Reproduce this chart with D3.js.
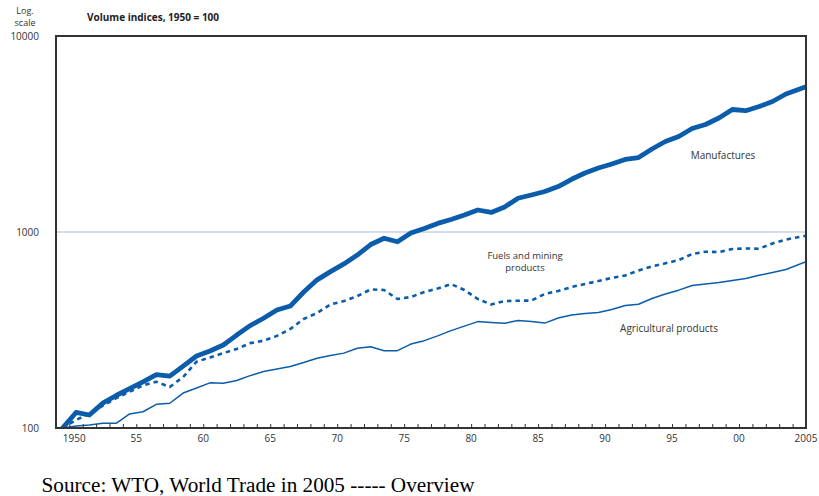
<!DOCTYPE html>
<html>
<head>
<meta charset="utf-8">
<script src="https://cdn.jsdelivr.net/npm/d3@7"></script>
<style>
  html, body { margin: 0; padding: 0; background: #fff; }
  svg { display: block; }
</style>
</head>
<body>
<svg id="chart" width="819" height="496"></svg>
<script>
// ---- Data (volume indices, 1950 = 100) ----
const years = d3.range(1950, 2006);
const manufactures = [
  100, 120, 116.5, 134, 146.5, 159, 172, 187, 184, 207,
  233, 247, 265, 298, 333, 363, 400, 419, 494, 570,
  628, 687, 763, 863, 929, 892, 989, 1042, 1106, 1158,
  1221, 1295, 1258, 1342, 1486, 1545, 1610, 1706, 1858, 2000,
  2121, 2223, 2344, 2399, 2652, 2895, 3070, 3373, 3535, 3815,
  4217, 4159, 4366, 4633, 5058, 5510
];
const fuels = [
  100, 110, 118, 130, 142, 153, 165, 172, 162, 182,
  218, 229, 241, 253, 271, 279, 295, 320, 360, 386,
  427, 444, 471, 509, 506, 455, 466, 494, 515, 542,
  506, 455, 427, 444, 446, 447, 483, 500, 524, 543,
  562, 583, 600, 636, 667, 692, 719, 772, 793, 790,
  819, 824, 822, 874, 915, 958
];
const agricultural = [
  100, 102.4, 103.6, 105.7, 105.7, 118, 121, 132, 133.7, 150.8,
  160, 170, 169, 174.7, 185, 194, 200, 206, 216, 227,
  234.5, 241, 255, 260, 248, 248, 268, 279, 295, 314,
  331, 349, 345, 342, 354, 349, 343, 364, 377, 384,
  388, 402, 422, 428, 458, 483, 505, 533, 543, 552,
  566, 579, 601, 621, 644, 706
];
const yTickValues = [100, 1000, 10000];
const xTickYears = d3.range(1950, 2005);
const xLabelYears = [1950, 1955, 1960, 1965, 1970, 1975, 1980, 1985, 1990, 1995, 2000, 2005];

const seriesList = [
  { name: "Manufactures", values: manufactures, width: 4.8, dash: null },
  { name: "Fuels and mining products", values: fuels, width: 2.6, dash: "4.5,4" },
  { name: "Agricultural products", values: agricultural, width: 1.5, dash: null }
];

// ---- Layout ----
const frame = { left: 56, right: 806, top: 36, bottom: 428 };
const blue = "#0b5cab";
const fontUI = "'Open Sans', 'Noto Sans', sans-serif";

const svg = d3.select("#chart");

const xTick = d3.scaleLinear().domain([1950, 2005]).range([69.3, frame.right]);
// annual points sit in the middle of each year interval; the last one reaches the frame edge
const xData = d3.scaleLinear()
  .domain([1950, 2004, 2005])
  .range([xTick(1949.5), xTick(2003.5), xTick(2005)]);
const y = d3.scaleLog().domain([100, 10000]).range([frame.bottom, frame.top]);

// clip
svg.append("defs").append("clipPath").attr("id", "plotclip")
  .append("rect")
  .attr("x", frame.left).attr("y", frame.top)
  .attr("width", frame.right - frame.left)
  .attr("height", frame.bottom - frame.top);

// gridline at 1000
svg.append("line")
  .attr("x1", frame.left).attr("x2", frame.right)
  .attr("y1", y(1000)).attr("y2", y(1000))
  .attr("stroke", "#a9bde0").attr("stroke-width", 1.2);

// lines
const plot = svg.append("g").attr("clip-path", "url(#plotclip)");
seriesList.forEach(s => {
  const line = d3.line()
    .x((d, i) => xData(years[i]))
    .y(d => y(d))
    .curve(d3.curveLinear);
  plot.append("path")
    .datum(s.values)
    .attr("d", line)
    .attr("fill", "none")
    .attr("stroke", blue)
    .attr("stroke-width", s.width)
    .attr("stroke-linejoin", "round")
    .attr("stroke-linecap", s.dash ? "butt" : "round")
    .attr("stroke-dasharray", s.dash);
});

// frame
svg.append("rect")
  .attr("x", frame.left).attr("y", frame.top)
  .attr("width", frame.right - frame.left)
  .attr("height", frame.bottom - frame.top)
  .attr("fill", "none")
  .attr("stroke", "#333").attr("stroke-width", 2);

// x axis ticks (inward, every year)
const xAxis = d3.axisBottom(xTick)
  .tickValues(xTickYears)
  .tickSize(-4)
  .tickFormat("");
const gx = svg.append("g")
  .attr("transform", `translate(0,${frame.bottom})`)
  .call(xAxis);
gx.select(".domain").remove();
gx.selectAll(".tick line").attr("stroke", "#333").attr("stroke-width", 1);

// x labels
const fmtYear = d => (d === 1950 || d === 2005) ? String(d) : String(d % 100).padStart(2, "0");
svg.append("g").selectAll("text")
  .data(xLabelYears)
  .join("text")
  .attr("x", d => xTick(d) + (d === 1950 ? 5 : 0))
  .attr("y", 442)
  .attr("text-anchor", "middle")
  .attr("font-family", fontUI)
  .attr("font-size", 10)
  .attr("fill", "#333")
  .text(fmtYear);

// y labels
svg.append("g").selectAll("text")
  .data(yTickValues)
  .join("text")
  .attr("x", 39)
  .attr("y", d => y(d) + 3.5)
  .attr("text-anchor", "end")
  .attr("font-family", fontUI)
  .attr("font-size", 10)
  .attr("fill", "#333")
  .text(d => d3.format("d")(d));

// "Log. scale"
const logT = svg.append("text")
  .attr("text-anchor", "middle")
  .attr("font-family", fontUI)
  .attr("font-size", 9)
  .attr("fill", "#333");
logT.append("tspan").attr("x", 25).attr("y", 14).text("Log.");
logT.append("tspan").attr("x", 25).attr("y", 26).text("scale");

// title
svg.append("text")
  .attr("x", 87).attr("y", 21)
  .attr("font-family", fontUI)
  .attr("font-size", 10)
  .attr("font-weight", "bold")
  .attr("fill", "#222")
  .text("Volume indices, 1950 = 100");

// series labels
const labelStyle = sel => sel
  .attr("text-anchor", "middle")
  .attr("font-family", fontUI)
  .attr("font-size", 10)
  .attr("fill", "#333");
svg.append("text").call(labelStyle).attr("x", 723).attr("y", 159).text("Manufactures");
const fl = svg.append("text").call(labelStyle).attr("font-size", 9.5);
fl.append("tspan").attr("x", 525).attr("y", 258.5).text("Fuels and mining");
fl.append("tspan").attr("x", 525).attr("y", 270.5).text("products");
svg.append("text").call(labelStyle).attr("x", 669).attr("y", 332).text("Agricultural products");

// source
svg.append("text")
  .attr("x", 41.5).attr("y", 492)
  .attr("font-family", "'Liberation Serif', 'Times New Roman', serif")
  .attr("font-size", 20)
  .attr("textLength", 433)
  .attr("lengthAdjust", "spacingAndGlyphs")
  .attr("fill", "#000")
  .text("Source: WTO, World Trade in 2005 ----- Overview");
</script>
</body>
</html>
